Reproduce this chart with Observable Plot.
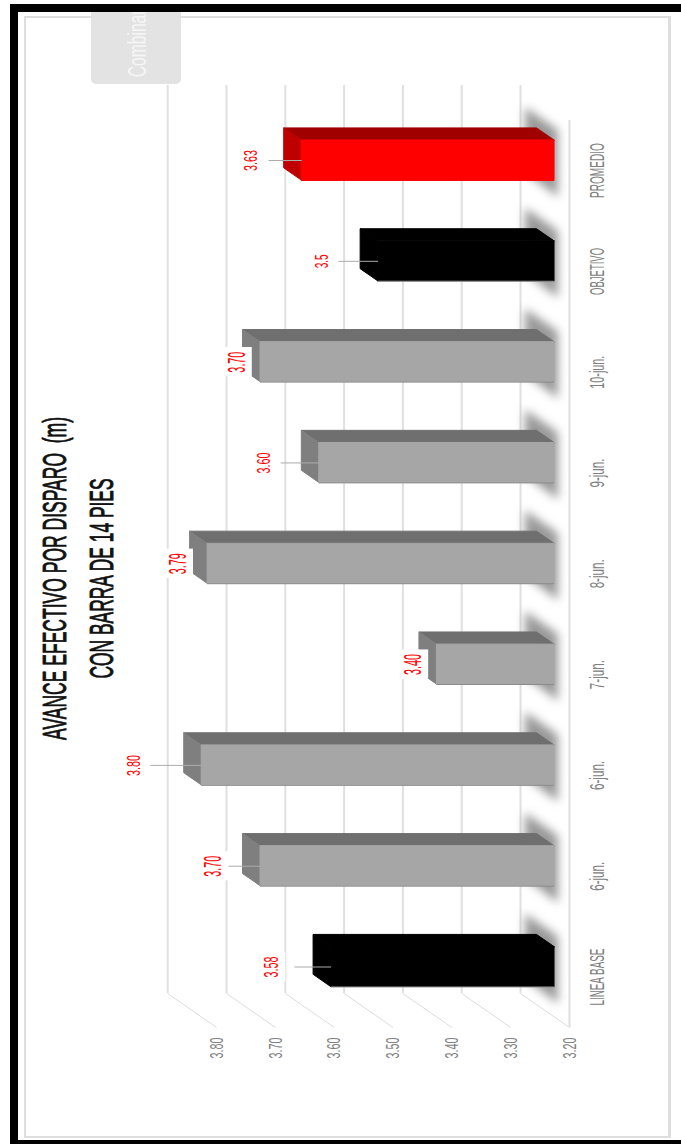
<!DOCTYPE html>
<html lang="es">
<head>
<meta charset="utf-8">
<script src="https://cdn.jsdelivr.net/npm/d3@7"></script>
<script src="https://cdn.jsdelivr.net/npm/@observablehq/plot@0.6"></script>
<style>
  html, body { margin: 0; padding: 0; background: #fff; }
  #page { position: relative; width: 681px; height: 1144px; overflow: hidden; }
  #band { position: absolute; left: 10px; top: 4px; right: 0; bottom: 0; border-left: 8px solid #000; border-top: 8px solid #000; border-bottom: 4px solid #000; background: #fff; }
  #panel { position: absolute; left: 24px; top: 16px; width: 642px; height: 1118px; border: solid #dedede; border-width: 2px 3px 2px 2px; }
  #button { position: absolute; left: 91px; top: 12px; width: 90px; height: 72px; background: #e3e3e3; border-radius: 0 0 5px 5px; overflow: hidden; }
  #button span { position: absolute; left: 31px; top: -25.5px; writing-mode: vertical-rl; transform: scaleY(.6) rotate(180deg); font: 26px "Liberation Sans", sans-serif; color: #f6f6f6; white-space: nowrap; }
  #chart { position: absolute; left: 0; top: 0; }
</style>
</head>
<body>
<div id="page">
  <div id="band"></div>
  <div id="panel"></div>
  <div id="button"><span>Combinar</span></div>
  <div id="chart"></div>
</div>
<script>
// Data, from the bottom of the picture to the top
const categories = ["LINEA BASE", "6-jun.", "6-jun.", "7-jun.", "8-jun.", "9-jun.", "10-jun.", "OBJETIVO", "PROMEDIO"];
const values     = [3.58, 3.70, 3.80, 3.40, 3.79, 3.60, 3.70, 3.50, 3.63];
const valueTexts = ["3.58", "3.70", "3.80", "3.40", "3.79", "3.60", "3.70", "3.5", "3.63"];
const kinds      = ["black", "gray", "gray", "gray", "gray", "gray", "gray", "black", "red"];
const labelAt    = [3.708, 3.805, 3.941, 3.465, 3.865, 3.719, 3.765, 3.62, 3.741];
const leaderFrom = [3.668, 3.78, 3.913, null, null, 3.691, null, 3.593, 3.712];
const ticks = [3.2, 3.3, 3.4, 3.5, 3.6, 3.7, 3.8];
const titleLines = ["AVANCE EFECTIVO POR DISPARO  (m)", "CON BARRA DE 14 PIES"];

const labelSizes = [21, 23, 18, 23, 23, 19, 23, 18, 19];
const palette = {
  gray:  {front: "#a6a6a6", top: "#6f6f6f", side: "#7f7f7f", edge: "#8c8c8c"},
  black: {front: "#000000", top: "#000000", side: "#000000", edge: "#8a8a8a"},
  red:   {front: "#ff0000", top: "#a00000", side: "#bf0000", edge: "#ff0000"}
};

// Oblique projection of the 3-D chart: depth d runs from the front plane (0) to the back wall (1)
const base = 3.2, kx = 0.0833, ky = 0.337;
const dFront = 0.306, dBack = 0.663, half = 0.198;
const X = (v, d) => v + d * kx;
const Y = (i, d) => i + (d - dFront) * ky;

const idx = categories.map((_, i) => i);
const depths = [dFront, dBack];
const topFaces = idx.flatMap(i => depths.map(d => ({i, y: Y(i, d) + half, x1: X(base, d), x2: X(values[i], d), fill: palette[kinds[i]].top})));
const sideFaces = idx.flatMap(i => depths.map(d => ({i, x: X(values[i], d), y1: Y(i, d) - half, y2: Y(i, d) + half, fill: palette[kinds[i]].side})));
const shadows = idx.flatMap(i => [
  {i, x: X(base, 0.224), y1: i - 0.367, y2: i + 0.298},
  {i, x: X(base, 0.9), y1: i - 0.119, y2: i + 0.526}
]);
const wallTop = 8.744, wallBottom = -0.263, floorFront = -0.6, frontTop = 8.397;
const leaders = idx.filter(i => leaderFrom[i] !== null);

const plot = Plot.plot({
  width: 681, height: 1144,
  marginTop: 0, marginRight: 0, marginLeft: 0, marginBottom: 117,
  style: {background: "transparent", fontFamily: '"Liberation Sans", sans-serif'},
  x: {domain: [3.2, 3.8], range: [569, 216.2]},
  y: {type: "linear", domain: [0, 8], range: [966.5, 160], axis: null},
  color: {type: "identity"},
  marks: [
    // back wall, floor and front edge
    Plot.ruleX(ticks, {x: d => X(d, 1), y1: wallBottom, y2: wallTop, stroke: "#e0e0e0", strokeWidth: 2}),
    Plot.link(ticks, {x1: d => X(d, 1), y1: wallBottom, x2: d => d, y2: floorFront, stroke: "#dcdcdc", strokeWidth: 1}),
    Plot.ruleX([base], {y1: floorFront, y2: frontTop, stroke: "#e0e0e0", strokeWidth: 2}),
    // soft shadows on the floor
    Plot.areaY(shadows, {x: "x", y1: "y1", y2: "y2", z: "i", fill: "#999999", imageFilter: "blur(5px)"}),
    // bars
    Plot.areaX(topFaces, {x1: "x1", x2: "x2", y: "y", z: "i", fill: "fill", stroke: "fill", strokeWidth: 1}),
    Plot.areaY(sideFaces, {x: "x", y1: "y1", y2: "y2", z: "i", fill: "fill", stroke: "fill", strokeWidth: 1}),
    Plot.rect(idx, {
      x1: i => X(base, dFront), x2: i => X(values[i], dFront),
      y1: i => i - half, y2: i => i + half,
      fill: i => palette[kinds[i]].front, stroke: i => palette[kinds[i]].front, strokeWidth: 1
    }),
    Plot.ruleY(idx, {
      y: i => i - half, x1: i => X(base, dFront), x2: i => X(values[i], dFront),
      stroke: i => palette[kinds[i]].edge, strokeWidth: 1
    }),
    // data labels
    Plot.rect(idx, {
      x1: i => labelAt[i] - 0.0255, x2: i => labelAt[i] + 0.0255,
      y1: i => i - 0.145, y2: i => i + 0.145, fill: "white"
    }),
    Plot.link(leaders, {
      x1: i => leaderFrom[i], x2: i => X(values[i], dFront), y1: i => i, y2: i => i,
      stroke: "#ababab", strokeWidth: 1
    }),
    Plot.text(idx, {
      x: i => labelAt[i], y: i => i, text: i => valueTexts[i], rotate: -90,
      fill: "#ff0000", fontSize: i => labelSizes[i]
    }),
    // category labels
    Plot.text(idx, {
      x: () => 3.2 - 0.0476, y: i => i - 0.1, text: i => categories[i], rotate: -90,
      fill: "#808080", fontSize: 21
    }),
    // value axis
    Plot.axisX({anchor: "bottom", ticks, tickFormat: d3.format(".2f"), tickRotate: -90, tickSize: 0, tickPadding: 10, fill: "#808080", fontSize: 19, label: null}),
    // title
    Plot.text([titleLines[0]], {frameAnchor: "left", dx: 55, dy: 64.5, rotate: -90, textAnchor: "middle", text: d => d, fontSize: 34, fill: "#111", stroke: "#111", strokeWidth: 0.9}),
    Plot.text([titleLines[1]], {frameAnchor: "left", dx: 102, dy: 64.5, rotate: -90, textAnchor: "middle", text: d => d, fontSize: 34, fill: "#111", stroke: "#111", strokeWidth: 0.9})
  ]
});
document.getElementById("chart").append(plot);

// The reference's lettering is tall and very condensed: fit each text to its measured length
const lengths = new Map([
  ["LINEA BASE", 57], ["PROMEDIO", 55], ["OBJETIVO", 47], ["10-jun.", 33],
  ["9-jun.", 29], ["8-jun.", 29], ["7-jun.", 29], ["6-jun.", 29],
  ["3.5", 14], [titleLines[0], 323], [titleLines[1], 200]
]);
d3.select(plot).selectAll("text").each(function() {
  const t = this.textContent;
  const n = lengths.get(t) ?? (/^\d\.\d\d$/.test(t) ? 21 : null);
  if (n) {
    this.setAttribute("textLength", n);
    this.setAttribute("lengthAdjust", "spacingAndGlyphs");
  }
});
</script>
</body>
</html>
